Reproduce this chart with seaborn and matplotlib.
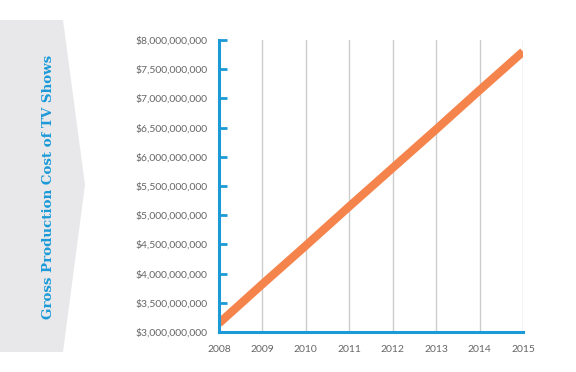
import matplotlib
matplotlib.use("Agg")
import matplotlib.pyplot as plt
import seaborn as sns
import pandas as pd
from matplotlib.patches import Polygon
from matplotlib.ticker import FuncFormatter

years = [2008, 2009, 2010, 2011, 2012, 2013, 2014, 2015]
cost = [3.15e9, 3.82e9, 4.48e9, 5.15e9, 5.81e9, 6.47e9, 7.14e9, 7.80e9]
y_ticks = [3.0e9, 3.5e9, 4.0e9, 4.5e9, 5.0e9, 5.5e9, 6.0e9, 6.5e9, 7.0e9, 7.5e9, 8.0e9]
title = "Gross Production Cost of TV Shows"

df = pd.DataFrame({"year": years, "cost": cost})

sns.set_theme(style="white")
plt.rcParams['font.family'] = ['Lato', 'DejaVu Sans']

BLUE = "#1b9ad7"
ORANGE = "#f4844c"
GRAY_TXT = "#666666"

fig = plt.figure(figsize=(5.76, 3.72), dpi=100)
fig.patch.set_facecolor("white")

# left arrow-shaped panel
W, H = 576, 372
pts = [(0, 20), (63, 20), (85, 185), (63, 352), (0, 352)]
poly = Polygon([(x / W, 1 - y / H) for x, y in pts], closed=True,
               transform=fig.transFigure, facecolor="#e8e8ea", edgecolor="none", zorder=0)
fig.patches.append(poly)
fig.text(49 / W, 1 - 187 / H, title, rotation=90, ha="center", va="center",
         color=BLUE, fontsize=9.6, family=["DejaVu Serif"], fontweight="bold")

ax = fig.add_axes([219 / W, 1 - 332 / H, (523 - 219) / W, (332 - 40) / H])
ax.set_facecolor("none")

sns.lineplot(data=df, x="year", y="cost", ax=ax, color=ORANGE, linewidth=6, zorder=3)
for ln in ax.lines:
    ln.set_solid_capstyle("butt")

ax.set_xlim(2008, 2015)
ax.set_ylim(3.0e9, 8.0e9)
ax.set_xticks(years)
ax.set_xticklabels([str(y) for y in years])
ax.set_yticks(y_ticks)
ax.yaxis.set_major_formatter(FuncFormatter(lambda v, p: "${:,.0f}".format(v)))

for yr in years[1:]:
    ax.axvline(yr, color="#cccccc", linewidth=1, zorder=1)

for s in ["top", "right"]:
    ax.spines[s].set_visible(False)
for s in ["left", "bottom"]:
    ax.spines[s].set_color(BLUE)
    ax.spines[s].set_linewidth(2.2)
    ax.spines[s].set_zorder(4)

ax.tick_params(axis="y", direction="in", length=6, width=2, color=BLUE,
               labelsize=7.5, labelcolor=GRAY_TXT, pad=8, left=True)
ax.tick_params(axis="x", length=0, labelsize=7.5, labelcolor=GRAY_TXT, pad=9)
ax.set_xlabel("")
ax.set_ylabel("")
ax.grid(False)

fig.savefig("out.png", dpi=100)
